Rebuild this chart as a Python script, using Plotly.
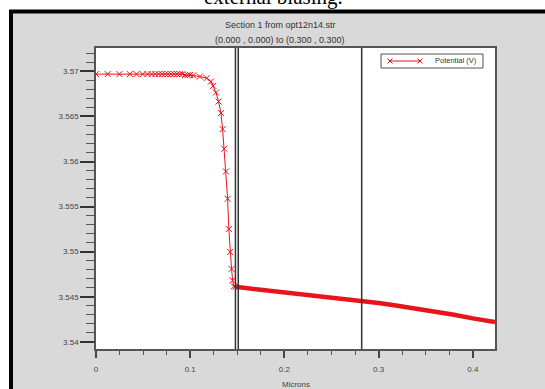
import plotly.graph_objects as go

# ---- data ----
x_drop = [0.0, 0.0124, 0.0248, 0.036, 0.043, 0.0495, 0.0548, 0.059, 0.063, 0.0665,
          0.070, 0.0733, 0.0764, 0.0796, 0.0828, 0.086, 0.0888, 0.0917, 0.0945, 0.0973,
          0.0998, 0.1032, 0.1103, 0.1174, 0.1220, 0.1244, 0.1273, 0.1301, 0.1326,
          0.1344, 0.1361, 0.1379, 0.1397, 0.1410, 0.1424, 0.1439, 0.1450, 0.1463, 0.148]
y_drop = [3.5697, 3.5697, 3.5697, 3.5697, 3.5697, 3.5697, 3.5697, 3.5697, 3.5697, 3.5697,
          3.5697, 3.5697, 3.5697, 3.5697, 3.5697, 3.5697, 3.5697, 3.5697, 3.5696, 3.5696,
          3.5696, 3.56955, 3.56943, 3.56926, 3.56888, 3.5684, 3.56766, 3.56666, 3.56538,
          3.5636, 3.56142, 3.5589, 3.55587, 3.55252, 3.54997, 3.54808, 3.54682, 3.54615, 3.5461]

x_tail = [0.148, 0.16, 0.18, 0.20, 0.22, 0.24, 0.26, 0.28, 0.30, 0.32, 0.34, 0.36,
          0.38, 0.40, 0.4235]
y_tail = [3.5461, 3.54596, 3.54573, 3.5455, 3.54528, 3.54505, 3.54482, 3.5446, 3.5443,
          3.5440, 3.5437, 3.5434, 3.5430, 3.5426, 3.5422]

boundaries = [0.148, 0.151, 0.282]
x_ticks = [0, 0.1, 0.2, 0.3, 0.4]
y_ticks = [3.54, 3.545, 3.55, 3.555, 3.56, 3.565, 3.57]
series_name = "Potential (V)"

RED = "#e8141b"
FONT = "Liberation Sans, Arial, sans-serif"

W, H = 545, 389
L, R, T, B = 96, 50, 48, 40
pw, ph = W - L - R, H - T - B


def px(xp):
    return (xp - L) / pw


def py(yp):
    return 1 - (yp - T) / ph


fig = go.Figure()
fig.add_trace(go.Scatter(
    x=x_drop, y=y_drop, mode="lines+markers", name=series_name, showlegend=False,
    line=dict(color=RED, width=1),
    marker=dict(symbol="x-thin", size=6, line=dict(color=RED, width=1), color=RED),
))
fig.add_trace(go.Scatter(
    x=x_tail, y=y_tail, mode="lines", showlegend=False,
    line=dict(color=RED, width=4.5),
))

shapes = [
    dict(type="rect", xref="paper", yref="paper", x0=px(11), x1=px(620), y0=py(11.5), y1=py(460),
         fillcolor="#d9d9d9", line=dict(color="black", width=4), layer="below"),
    dict(type="rect", xref="paper", yref="paper", x0=0, x1=1, y0=0, y1=1,
         fillcolor="white", line=dict(width=0), layer="below"),
]
for b in boundaries:
    shapes.append(dict(type="line", xref="x", yref="paper", x0=b, x1=b, y0=0, y1=1,
                       line=dict(color="#333333", width=1.5)))

# legend box (drawn as decoration)
LX0, LX1, LY0, LY1 = 381, 483, 54, 68
LYC = (LY0 + LY1) / 2
shapes.append(dict(type="rect", xref="paper", yref="paper", x0=px(LX0), x1=px(LX1),
                   y0=py(LY0), y1=py(LY1), fillcolor="white", line=dict(color="#555555", width=1)))
shapes.append(dict(type="line", xref="paper", yref="paper", x0=px(390), x1=px(420),
                   y0=py(LYC), y1=py(LYC), line=dict(color=RED, width=1)))
for cx in (390, 420):
    shapes.append(dict(type="line", xref="paper", yref="paper", x0=px(cx - 2.5), x1=px(cx + 2.5),
                       y0=py(LYC - 2.5), y1=py(LYC + 2.5), line=dict(color=RED, width=1)))
    shapes.append(dict(type="line", xref="paper", yref="paper", x0=px(cx - 2.5), x1=px(cx + 2.5),
                       y0=py(LYC + 2.5), y1=py(LYC - 2.5), line=dict(color=RED, width=1)))

annotations = [
    dict(text="external biasing.", xref="paper", yref="paper", x=px(273), y=py(-3),
         showarrow=False, xanchor="center", yanchor="middle",
         font=dict(family="Liberation Serif, Times New Roman, serif", size=21, color="black")),
    dict(text="Section 1 from opt12n14.str", xref="paper", yref="paper", x=px(280), y=py(25),
         showarrow=False, xanchor="center", yanchor="middle",
         font=dict(family=FONT, size=9, color="#333333")),
    dict(text="(0.000 , 0.000) to (0.300 , 0.300)", xref="paper", yref="paper", x=px(280), y=py(40),
         showarrow=False, xanchor="center", yanchor="middle",
         font=dict(family=FONT, size=9, color="#333333")),
    dict(text="Microns", xref="paper", yref="paper", x=px(296), y=py(384),
         showarrow=False, xanchor="center", yanchor="middle",
         font=dict(family=FONT, size=8, color="#444444")),
    dict(text=series_name, xref="paper", yref="paper", x=px(433), y=py(LYC),
         showarrow=False, xanchor="left", yanchor="middle",
         font=dict(family=FONT, size=7.5, color="#333333")),
]

fig.update_layout(
    width=W, height=H,
    margin=dict(l=L, r=R, t=T, b=B, pad=0),
    paper_bgcolor="white", plot_bgcolor="white",
    shapes=shapes, annotations=annotations,
    showlegend=False,
    font=dict(family=FONT, size=8, color="#444444"),
)

fig.update_xaxes(
    range=[0, 0.4235], tickvals=x_ticks, ticktext=["0", "0.1", "0.2", "0.3", "0.4"],
    showgrid=False, zeroline=False, showline=True, linecolor="#555555", linewidth=1.5,
    mirror=True, ticks="outside", ticklen=7, tickwidth=2, tickcolor="#444444",
    ticklabelstandoff=5,
    tickfont=dict(family=FONT, size=8, color="#444444"),
    minor=dict(dtick=0.025, tick0=0, ticks="outside", ticklen=4, tickcolor="#555555", tickwidth=1,
               showgrid=False),
)
fig.update_yaxes(
    range=[3.5392, 3.5726], tickvals=y_ticks,
    ticktext=["3.54", "3.545", "3.55", "3.555", "3.56", "3.565", "3.57"],
    showgrid=False, zeroline=False, showline=True, linecolor="#555555", linewidth=1.5,
    mirror=True, ticks="outside", ticklen=14, tickwidth=2, tickcolor="#333333",
    tickfont=dict(family=FONT, size=8, color="#444444"),
    minor=dict(dtick=0.001, tick0=3.54, ticks="outside", ticklen=8, tickcolor="#555555", tickwidth=1,
               showgrid=False),
)

fig.write_html("out.html")
